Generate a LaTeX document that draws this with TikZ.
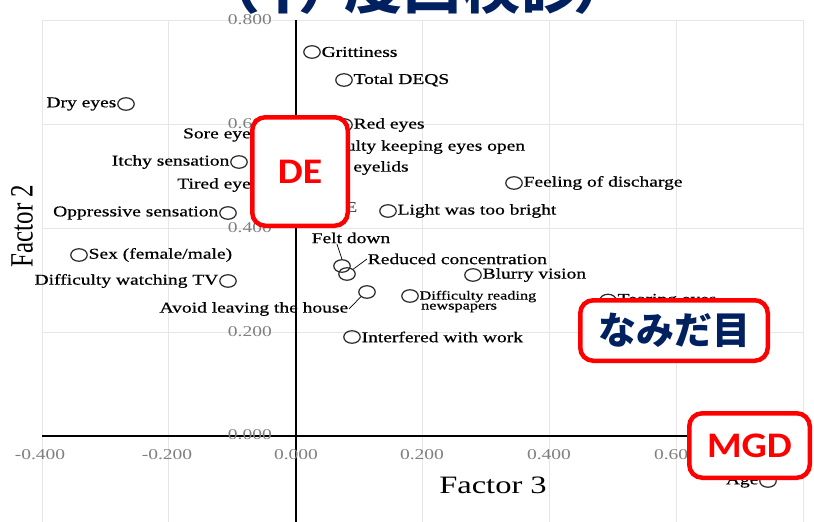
\documentclass[tikz,border=0pt]{standalone}
\usepackage{fontspec}
\setmainfont{Liberation Serif}
\newfontfamily\plotfont[FakeStretch=1.3,FakeBold=0.6]{Liberation Serif}
\newfontfamily\tickfont[FakeStretch=1.3]{Liberation Serif}
\newfontfamily\axisfont{Liberation Serif}
\newfontfamily\tagfont[FakeStretch=1.1]{Carlito}
\newfontfamily\jpfont{Noto Sans CJK JP}
\usetikzlibrary{shapes.geometric}
\definecolor{navy}{HTML}{002060}
\definecolor{tagred}{HTML}{FF0000}
\definecolor{gridgray}{HTML}{E6E6E6}
\definecolor{tickgray}{HTML}{7F7F7F}

\begin{document}
\begin{tikzpicture}[x=1pt,y=-1pt,
  grid line/.style={draw=gridgray, line width=0.9pt},
  axis line/.style={draw=black, line width=2.2pt},
  tick/.style={font=\tickfont\fontsize{15}{16}\selectfont, text=tickgray, inner sep=0pt},
  marker/.style={ellipse, draw=black!85, line width=1.2pt, minimum width=16.5pt,
                 minimum height=12.5pt, inner sep=0pt},
  lbl/.style={font=\plotfont\fontsize{15}{16}\selectfont, inner sep=0.6pt},
  small lbl/.style={font=\plotfont\fontsize{12.5}{11}\selectfont, inner sep=0.6pt, align=left},
  leader/.style={draw=black, line width=0.7pt},
  tagbox/.style={draw=tagred, line width=4.5pt, rounded corners=13pt, fill=white, inner sep=0pt},
  tagtext/.style={font=\tagfont\bfseries\fontsize{36}{38}\selectfont, text=tagred},
  jptext/.style={font=\jpfont\bfseries\fontsize{38}{40}\selectfont, text=navy},
  headline/.style={font=\jpfont\bfseries\fontsize{58}{58}\selectfont, text=navy, anchor=base, inner sep=0pt},
  axis title/.style={font=\axisfont\fontsize{25}{26}\selectfont, inner sep=0pt}
]
\useasboundingbox (0,0) rectangle (814,522);

% heading, only its lower edge lies inside the page
\foreach \ch/\cx [count=\i] in {（/231,中/283,）/327,度/373,画/432,検/491,診/550,）/602}
  \node[headline] (head\i) at (\cx,8.5) {\ch};

% grid
\foreach \gy in {20,124,228,332,436}
  \draw[grid line] (42,\gy) -- (803,\gy);
\foreach \gx in {42,168.8,295.7,422.5,549.3,676.2,803}
  \draw[grid line] (\gx,20) -- (\gx,522);

% axes
\coordinate (xl) at (42,436);
\coordinate (xr) at (803,436);
\coordinate (yt) at (295.7,20);
\coordinate (yb) at (295.7,522);
\draw[axis line] (xl) -- (xr);
\draw[axis line] (yt) -- (yb);

% tick labels
\foreach \v/\ty [count=\i] in {0.800/20,0.600/124,0.400/228,0.200/332,0.000/435}
  \node[tick, anchor=east] (ytick\i) at (272,\ty) {\v};
\foreach \v/\tx [count=\i] in {-0.400/40,-0.200/167,0.000/296,0.200/422,0.400/549,0.600/676}
  \node[tick] (xtick\i) at (\tx,455) {\v};

\node[axis title] (xtitle) at (493,485) {\scalebox{1.3}[1]{Factor 3}};
\node[axis title] (ytitle) at (22,226) {\rotatebox{90}{\scalebox{1}[1.3]{Factor 2}}};

% loadings
\node[marker] (grit) at (312,52) {};
\node[lbl, anchor=west] (grit-l) at (grit.east) {Grittiness};
\node[marker] (deqs) at (344,80) {};
\node[lbl, anchor=west] (deqs-l) at (deqs.east) {Total DEQS};
\node[marker] (dry) at (126,104) {};
\node[lbl, anchor=east] (dry-l) at (dry.west) {Dry eyes};
\node[marker] (red) at (344,125) {};
\node[lbl, anchor=west] (red-l) at (red.east) {Red eyes};
\node[marker] (sore) at (268,135) {};
\node[lbl, anchor=east] (sore-l) at (sore.west) {Sore eyes};
\node[marker] (open) at (290,147) {};
\node[lbl, anchor=west] (open-l) at (open.east) {Difficulty keeping eyes open};
\node[marker] (itchy) at (239,162) {};
\node[lbl, anchor=east] (itchy-l) at (itchy.west) {Itchy sensation};
\node[marker] (heavy) at (288,168) {};
\node[lbl, anchor=west] (heavy-l) at (heavy.east) {Heavy eyelids};
\node[marker] (tired) at (268,185) {};
\node[lbl, anchor=east] (tired-l) at (tired.west) {Tired eyes};
\node[marker] (dis) at (514,183) {};
\node[lbl, anchor=west] (dis-l) at (dis.east) {Feeling of discharge};
\node[lbl, anchor=east, text=black!70] (e-l) at (358,207) {E};
\node[marker] (light) at (388,211) {};
\node[lbl, anchor=west] (light-l) at (light.east) {Light was too bright};
\node[marker] (opp) at (228,213) {};
\node[lbl, anchor=east] (opp-l) at (opp.west) {Oppressive sensation};
\node[marker] (sex) at (79,255) {};
\node[lbl, anchor=west] (sex-l) at (sex.east) {Sex (female/male)};
\node[marker] (tv) at (228,281) {};
\node[lbl, anchor=east] (tv-l) at (tv.west) {Difficulty watching TV};
\node[marker] (felt) at (342,266) {};
\node[lbl] (felt-l) at (351,238) {Felt down};
\draw[leader] ([xshift=26pt]felt-l.south west) -- (felt.north);
\node[marker] (conc) at (347,274) {};
\node[lbl, anchor=west] (conc-l) at (367,259) {Reduced concentration};
\draw[leader] (conc.north east) -- (conc-l.west);
\node[marker] (blur) at (473,275) {};
\node[lbl, anchor=west] (blur-l) at (blur.east) {Blurry vision};
\node[marker] (avoid) at (367,292) {};
\node[lbl, anchor=east] (avoid-l) at (349,309) {Avoid leaving the house};
\draw[leader] (avoid-l.east) -- (avoid.south west);
\node[marker] (read) at (410,296) {};
\node[small lbl, anchor=west, yshift=-5.5pt] (read-l) at (read.east) {Difficulty reading\\[-1pt]\hspace*{1.5pt}newspapers};
\node[marker] (tear) at (608,300.5) {};
\node[lbl, anchor=west] (tear-l) at (tear.east) {Tearing eyes};
\node[marker] (work) at (352,337) {};
\node[lbl, anchor=west] (work-l) at (work.east) {Interfered with work};
\node[marker] (age) at (768,481) {};
\node[lbl, anchor=east] (age-l) at (age.west) {Age};

% group tags
\node[tagbox, minimum width=95.5pt, minimum height=108.5pt] (de-box) at (300,171.5) {};
\node[tagtext] (de-t) at (de-box.center) {DE};
\node[tagbox, minimum width=187.5pt, minimum height=60.5pt] (tear-box) at (674,330.5) {};
\node[jptext] (tear-t) at (tear-box.center) {なみだ目};
\node[tagbox, minimum width=120.5pt, minimum height=64.5pt] (mgd-box) at (749.5,445.5) {};
\node[tagtext] (mgd-t) at (mgd-box.center) {MGD};
\end{tikzpicture}
\end{document}
